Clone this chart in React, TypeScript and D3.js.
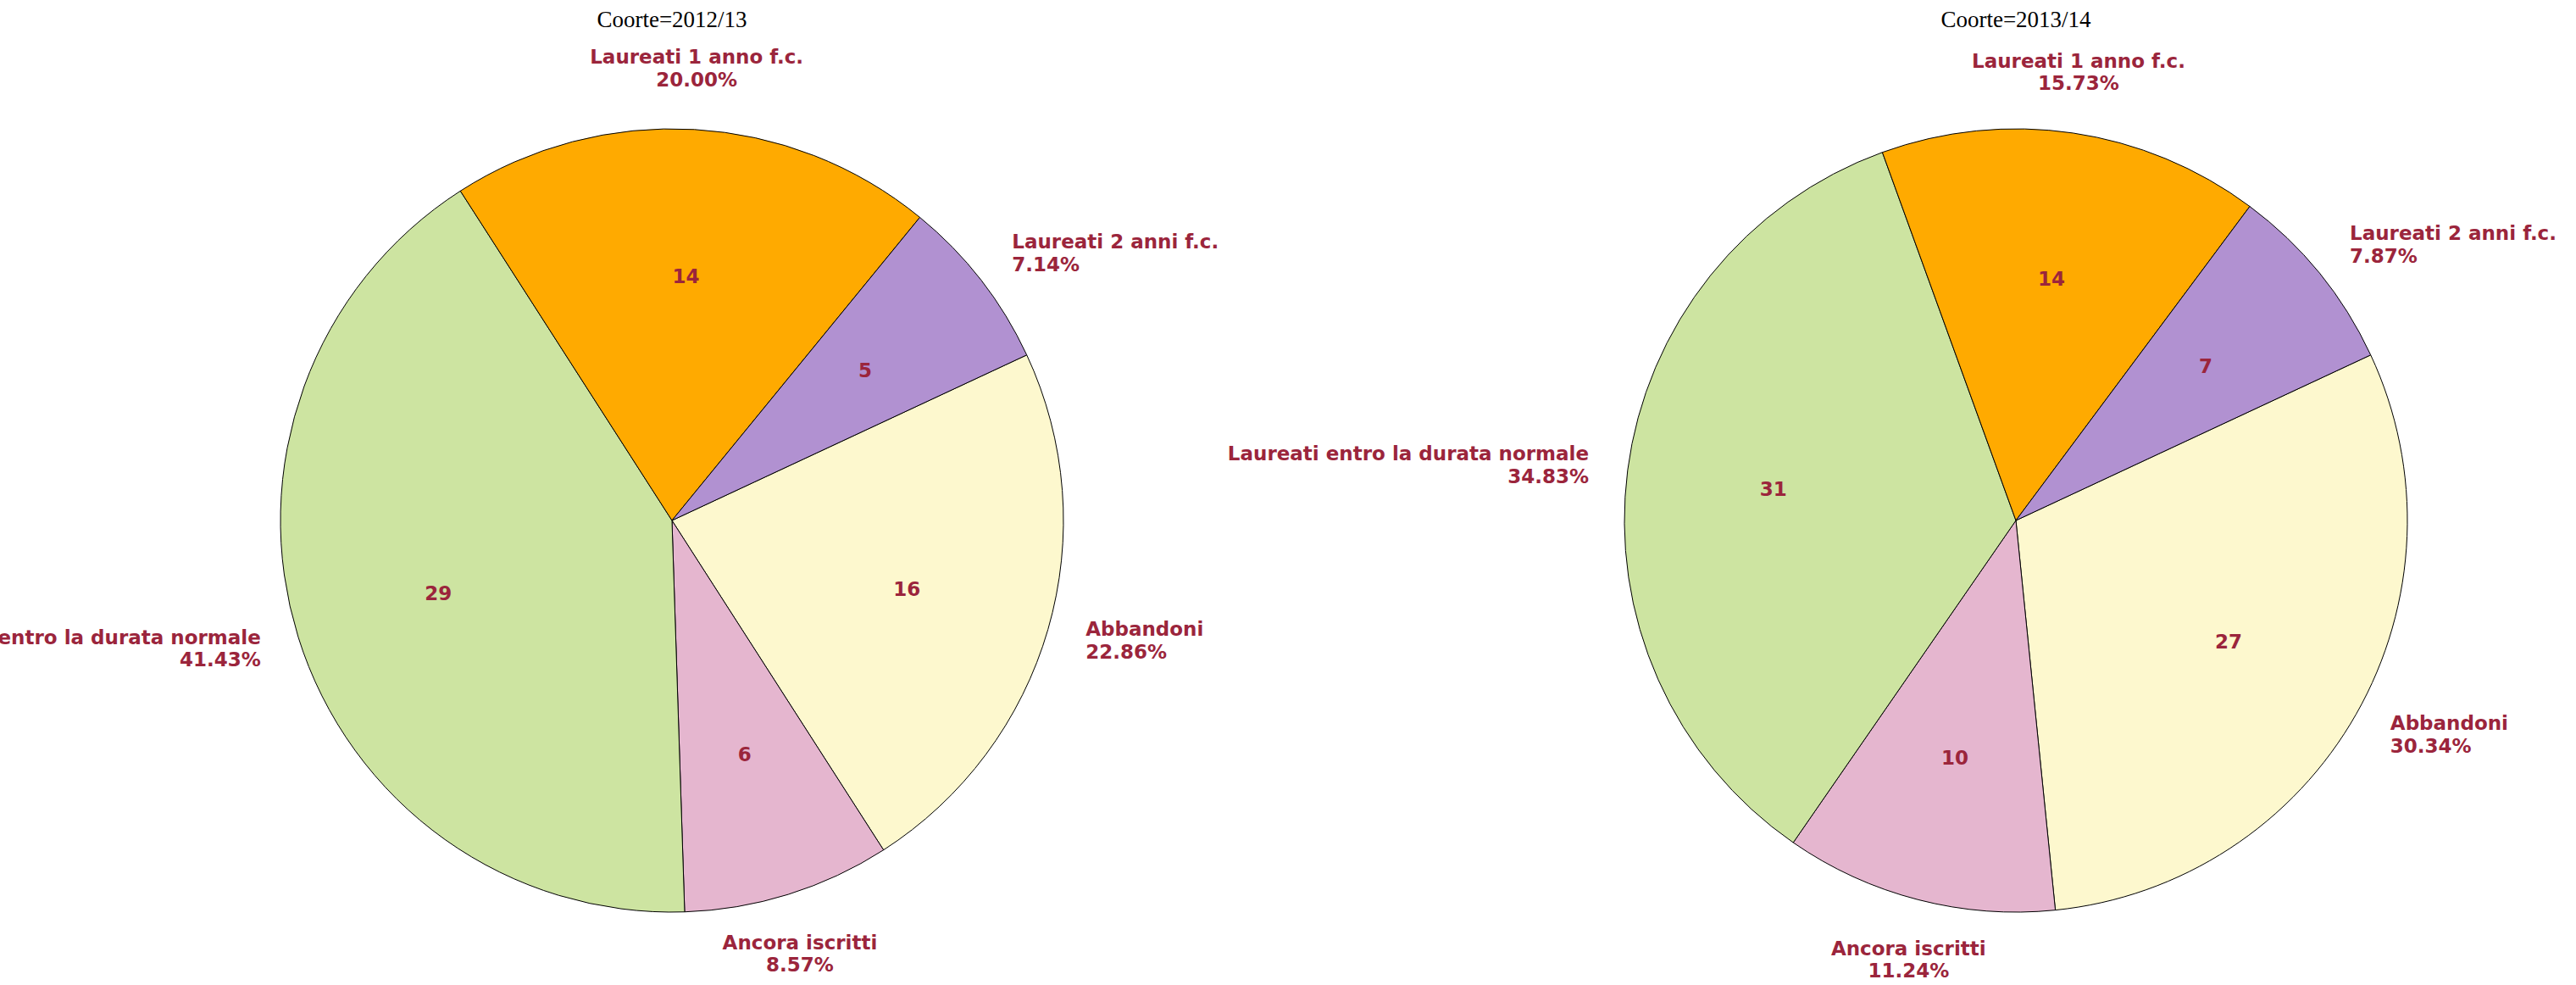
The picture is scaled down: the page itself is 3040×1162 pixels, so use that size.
import React from "react";
import * as d3 from "d3";

// ---- data ----
const categories = [
  "Abbandoni",
  "Ancora iscritti",
  "Laureati entro la durata normale",
  "Laureati 1 anno f.c.",
  "Laureati 2 anni f.c.",
];
const cohorts = ["2012/13", "2013/14"];
const counts2012 = [16, 6, 29, 14, 5];
const counts2013 = [27, 10, 31, 14, 7];
const sliceColors = ["#fdf8ce", "#e5b6cf", "#cde4a1", "#ffaa00", "#b191d1"];

// ---- layout ----
const W = 3040;
const H = 1162;
const CENTERS_X = [793, 2379];
const CY = 614;
const R = 462;
const START = (65 * Math.PI) / 180;
const TEXT_COLOR = "#9b253c";
const LABEL_FONT = "'DejaVu Sans', Verdana, sans-serif";
const FONT_SIZE = 23;
const LINE = 26.6;

type Slice = { name: string; value: number; color: string };

function PieChart({ cx, title, counts }: { cx: number; title: string; counts: number[] }) {
  const data: Slice[] = categories.map((c, i) => ({ name: c, value: counts[i], color: sliceColors[i] }));
  const total = d3.sum(counts);
  const pie = d3
    .pie<Slice>()
    .sort(null)
    .value((d) => d.value)
    .startAngle(START)
    .endAngle(START + 2 * Math.PI);
  const arcs = pie(data);
  const arcGen = d3.arc<d3.PieArcDatum<Slice>>().innerRadius(0).outerRadius(R);

  return (
    <g>
      <text
        x={cx}
        y={31.5}
        textAnchor="middle"
        fontFamily="'Liberation Serif', 'Times New Roman', serif"
        fontSize={27}
        fill="#000"
      >
        {title}
      </text>
      <g transform={`translate(${cx},${CY})`}>
        {arcs.map((a, i) => (
          <path key={i} d={arcGen(a) || ""} fill={a.data.color} stroke="#000" strokeWidth={1} />
        ))}
        {arcs.map((a, i) => {
          const th = (a.startAngle + a.endAngle) / 2;
          const r = 0.625 * R;
          return (
            <text
              key={"in" + i}
              x={r * Math.sin(th)}
              y={-r * Math.cos(th)}
              dy="0.36em"
              textAnchor="middle"
              fontFamily={LABEL_FONT}
              fontWeight="bold"
              fontSize={FONT_SIZE}
              fill={TEXT_COLOR}
            >
              {a.data.value}
            </text>
          );
        })}
        {arcs.map((a, i) => {
          const th = (a.startAngle + a.endAngle) / 2;
          const s = Math.sin(th);
          const c = Math.cos(th);
          const ax = 1.1 * R * s;
          const ay = -1.1 * R * c;
          const anchor = Math.abs(s) < 0.5 ? "middle" : s > 0 ? "start" : "end";
          const shift = Math.abs(c) > 0.85 ? 26 * Math.sign(c) : 26 * Math.sign(c) * Math.pow(c, 4);
          const centerY = ay - shift;
          const b1 = centerY - 5.5;
          const pct = ((a.data.value / total) * 100).toFixed(2) + "%";
          return (
            <text
              key={"out" + i}
              textAnchor={anchor}
              fontFamily={LABEL_FONT}
              fontWeight="bold"
              fontSize={FONT_SIZE}
              fill={TEXT_COLOR}
            >
              <tspan x={ax} y={b1}>
                {a.data.name}
              </tspan>
              <tspan x={ax} y={b1 + LINE}>
                {pct}
              </tspan>
            </text>
          );
        })}
      </g>
    </g>
  );
}

export default function App() {
  return (
    <svg
      width={W}
      height={H}
      viewBox={`0 0 ${W} ${H}`}
      style={{ position: "absolute", left: 0, top: 0, background: "#fff" }}
    >
      <rect width={W} height={H} fill="#fff" />
      <PieChart cx={CENTERS_X[0]} title={"Coorte=" + cohorts[0]} counts={counts2012} />
      <PieChart cx={CENTERS_X[1]} title={"Coorte=" + cohorts[1]} counts={counts2013} />
    </svg>
  );
}
